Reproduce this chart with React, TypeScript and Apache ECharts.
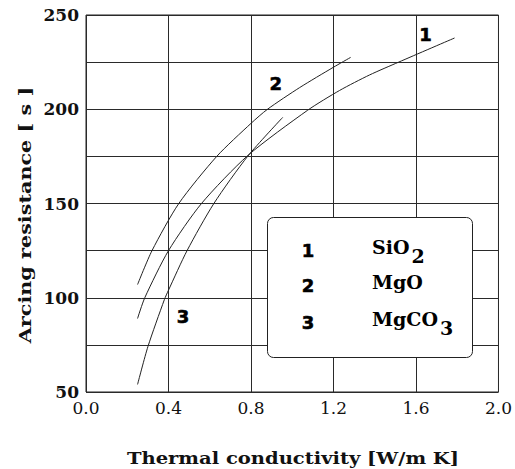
import React, { useEffect, useRef } from "react";
import * as echarts from "echarts";

// ---- data ----
const seriesNames = ["SiO2", "MgO", "MgCO3"];
const seriesNumbers = ["1", "2", "3"];

const sio2X = [0.25, 0.285, 0.4, 0.56, 0.785, 1.075, 1.23, 1.375, 1.516, 1.787];
const sio2Y = [89, 100, 125, 150, 175.5, 199.5, 210, 218.2, 225, 237.8];

const mgoX = [0.25, 0.32, 0.45, 0.634, 0.8, 0.88, 1.036, 1.2, 1.283];
const mgoY = [107, 125, 150, 175, 192.5, 200, 211.5, 222.3, 227.5];

const mgco3X = [0.25, 0.3, 0.38, 0.4, 0.49, 0.62, 0.785, 0.954];
const mgco3Y = [54, 74, 99, 104, 125, 150, 175.2, 195.7];

// curve number annotation positions (data units)
const labelX = [1.646, 0.92, 0.47];
const labelY = [239.4, 213.9, 90.3];

const xTickLabels = ["0.0", "0.4", "0.8", "1.2", "1.6", "2.0"];
const yTickLabels = [50, 100, 150, 200, 250];

const xTitle = "Thermal conductivity [W/m K]";
const yTitle = "Arcing resistance [ s ]";

const zip = (xs: number[], ys: number[]) => xs.map((x, i) => [x, ys[i]]);

export default function App() {
  const ref = useRef<HTMLDivElement>(null);

  useEffect(() => {
    if (!ref.current) return;
    const chart = echarts.init(ref.current, null, { renderer: "svg" });
    const curves = [zip(sio2X, sio2Y), zip(mgoX, mgoY), zip(mgco3X, mgco3Y)];

    chart.setOption({
      animation: false,
      backgroundColor: "#fff",
      grid: {
        left: 86,
        right: 16,
        top: 15,
        bottom: 77,
        show: true,
        borderColor: "#222",
        borderWidth: 1,
        backgroundColor: "transparent",
      },
      xAxis: {
        type: "value",
        min: 0,
        max: 2,
        interval: 0.4,
        axisLine: { show: false },
        axisTick: { show: false },
        splitLine: { show: true, lineStyle: { color: "#2a2a2a", width: 1 } },
        axisLabel: {
          fontFamily: "DejaVu Serif",
          fontSize: 17,
          color: "#111",
          margin: 7,
          formatter: (v: number) => xTickLabels[Math.round(v / 0.4)] ?? "",
        },
      },
      yAxis: {
        type: "value",
        min: 50,
        max: 250,
        interval: 25,
        axisLine: { show: false },
        axisTick: { show: false },
        splitLine: { show: true, lineStyle: { color: "#2a2a2a", width: 1 } },
        axisLabel: {
          fontFamily: "DejaVu Serif",
          fontWeight: "bold",
          fontSize: 17,
          color: "#111",
          margin: 7,
          formatter: (v: number) =>
            yTickLabels.includes(Math.round(v)) ? String(Math.round(v)) : "",
        },
      },
      series: curves.map((d, i) => ({
        type: "line",
        name: seriesNames[i],
        data: d,
        smooth: 0.25,
        showSymbol: false,
        symbol: "none",
        lineStyle: { color: "#222", width: 1 },
        z: 3,
      })),
    });

    const legendRich = {
      b: {
        fontFamily: "DejaVu Serif",
        fontWeight: "bold",
        fontSize: 19,
        color: "#111",
        verticalAlign: "top",
      },
      sub: {
        fontFamily: "DejaVu Serif",
        fontWeight: "bold",
        fontSize: 19,
        color: "#111",
        verticalAlign: "bottom",
        padding: [9, 0, 0, 2],
      },
    };
    const richName = (n: string) => {
      const m = n.match(/^(.*?)(\d+)$/);
      return m ? `{b|${m[1]}}{sub|${m[2]}}` : `{b|${n}}`;
    };
    const numberStyle = {
      fontFamily: "DejaVu Sans",
      fontWeight: "bold",
      fontSize: 18,
      fill: "#000",
      stroke: "#000",
      lineWidth: 0.6,
      align: "center",
      verticalAlign: "middle",
    };

    const legendRowY = [250, 285, 322];
    const graphics: any[] = [
      {
        type: "text",
        x: 293,
        y: 458,
        scaleX: 1.15,
        style: {
          text: xTitle,
          fontFamily: "DejaVu Serif",
          fontWeight: "bold",
          fontSize: 17,
          fill: "#111",
          align: "center",
          verticalAlign: "middle",
        },
      },
      {
        type: "text",
        x: 25,
        y: 215,
        rotation: Math.PI / 2,
        scaleX: 1.22,
        style: {
          text: yTitle,
          fontFamily: "DejaVu Serif",
          fontWeight: "bold",
          fontSize: 17,
          fill: "#111",
          align: "center",
          verticalAlign: "middle",
        },
      },
      {
        type: "rect",
        left: 267,
        top: 217,
        shape: { width: 205, height: 140, r: 6 },
        style: { fill: "#fff", stroke: "#222", lineWidth: 1 },
        z: 10,
      },
    ];
    seriesNames.forEach((name, i) => {
      graphics.push({
        type: "text",
        x: 308,
        y: legendRowY[i],
        z: 11,
        style: { ...numberStyle, text: seriesNumbers[i] },
      });
      graphics.push({
        type: "text",
        x: 372,
        y: legendRowY[i] - 13,
        z: 11,
        style: {
          text: richName(name),
          rich: legendRich,
          align: "left",
          verticalAlign: "top",
        },
      });
      const p = chart.convertToPixel({ gridIndex: 0 }, [labelX[i], labelY[i]]);
      graphics.push({
        type: "text",
        x: p[0],
        y: p[1],
        z: 5,
        style: { ...numberStyle, text: seriesNumbers[i] },
      });
    });

    chart.setOption({ graphic: graphics });

    return () => chart.dispose();
  }, []);

  return (
    <div
      ref={ref}
      style={{ position: "fixed", left: 0, top: 0, width: 515, height: 469 }}
    />
  );
}
